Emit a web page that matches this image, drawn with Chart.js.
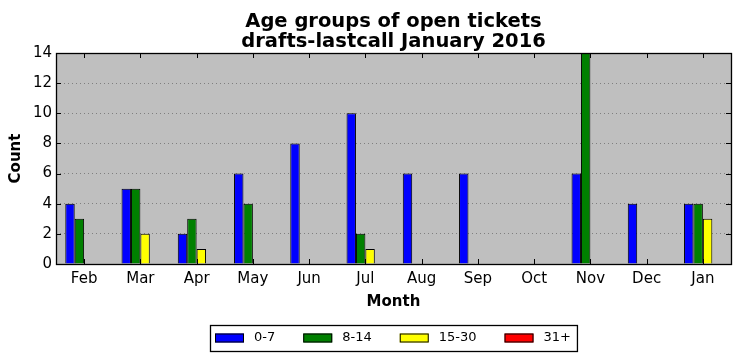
<!DOCTYPE html>
<html>
<head>
<meta charset="utf-8">
<script src="https://cdn.jsdelivr.net/npm/chart.js@4/dist/chart.umd.min.js"></script>
<style>
  html, body { margin: 0; padding: 0; background: #ffffff; }
  canvas { display: block; }
</style>
</head>
<body>
<canvas id="c" width="740" height="361"></canvas>
<script>
const titleLines = ["Age groups of open tickets", "drafts-lastcall January 2016"];
const months = ["Feb", "Mar", "Apr", "May", "Jun", "Jul", "Aug", "Sep", "Oct", "Nov", "Dec", "Jan"];
const seriesLabels = ["0-7", "8-14", "15-30", "31+"];
const age0to7   = [4, 5, 2, 6, 8, 10, 6, 6, 0, 6, 4, 4];
const age8to14  = [3, 5, 3, 4, 0, 2, 0, 0, 0, 14, 0, 4];
const age15to30 = [0, 2, 1, 0, 0, 1, 0, 0, 0, 0, 0, 3];
const age31plus = [0, 0, 0, 0, 0, 0, 0, 0, 0, 0, 0, 0];
const yTicks = [0, 2, 4, 6, 8, 10, 12, 14];

const FONT = "'DejaVu Sans', 'Liberation Sans', sans-serif";
Chart.defaults.font.family = FONT;
Chart.defaults.color = '#000000';

const bgPlugin = {
  id: 'bg',
  beforeDraw(chart) {
    const ctx = chart.ctx, ca = chart.chartArea;
    ctx.save();
    ctx.fillStyle = '#ffffff';
    ctx.fillRect(0, 0, chart.width, chart.height);
    ctx.fillStyle = '#bfbfbf';
    ctx.fillRect(ca.left, ca.top, ca.right - ca.left, ca.bottom - ca.top);
    ctx.restore();
  }
};

const titlePlugin = {
  id: 'axesTitle',
  afterDraw(chart) {
    const ctx = chart.ctx, ca = chart.chartArea;
    ctx.save();
    ctx.font = 'bold 19.5px ' + FONT;
    ctx.fillStyle = '#000000';
    ctx.textAlign = 'center';
    ctx.textBaseline = 'alphabetic';
    const cx = (ca.left + ca.right) / 2;
    titleLines.forEach((line, i) => ctx.fillText(line, cx, 26.7 + i * 20));
    ctx.restore();
  }
};

const framePlugin = {
  id: 'frame',
  afterDatasetsDraw(chart) {
    const ctx = chart.ctx, ca = chart.chartArea;
    const xs = chart.scales.x, ys = chart.scales.y;
    const tl = 5;
    ctx.save();
    ctx.strokeStyle = '#000000';
    ctx.lineWidth = 1;
    ctx.beginPath();
    xs.ticks.forEach((t, i) => {
      const px = Math.round(xs.getPixelForTick(i)) + 0.5;
      ctx.moveTo(px, ca.top); ctx.lineTo(px, ca.top + tl);
      ctx.moveTo(px, ca.bottom); ctx.lineTo(px, ca.bottom - tl);
    });
    yTicks.forEach(v => {
      const py = Math.round(ys.getPixelForValue(v)) + 0.5;
      ctx.moveTo(ca.left, py); ctx.lineTo(ca.left + tl, py);
      ctx.moveTo(ca.right, py); ctx.lineTo(ca.right - tl, py);
    });
    ctx.stroke();
    ctx.lineWidth = 1.3;
    ctx.strokeRect(ca.left + 0.5, ca.top + 0.5, ca.right - ca.left, ca.bottom - ca.top);
    ctx.restore();
  }
};

const legendPlugin = {
  id: 'boxLegend',
  afterDraw(chart) {
    const ctx = chart.ctx, ca = chart.chartArea;
    ctx.save();
    ctx.font = '13px ' + FONT;
    const sw = 29, sh = 9, gapText = 10, gapItem = 28, padL = 5, padR = 6;
    const items = chart.data.datasets.map(d => ({ label: d.label, color: d.backgroundColor, w: ctx.measureText(d.label).width }));
    let total = padL + padR;
    items.forEach((it, i) => { total += sw + gapText + it.w + (i < items.length - 1 ? gapItem : 0); });
    const left = Math.round((ca.left + ca.right) / 2 - total / 2);
    const top = 325, h = 26;
    ctx.fillStyle = '#ffffff';
    ctx.fillRect(left, top, total, h);
    ctx.strokeStyle = '#000000';
    ctx.lineWidth = 1.3;
    ctx.strokeRect(left + 0.5, top + 0.5, total, h);
    let x = left + padL;
    const midY = top + 13;
    ctx.textBaseline = 'middle';
    ctx.textAlign = 'left';
    items.forEach(it => {
      ctx.fillStyle = it.color;
      ctx.fillRect(x, midY - 4.5, sw, sh);
      ctx.lineWidth = 1;
      ctx.strokeStyle = '#000000';
      ctx.strokeRect(x + 0.5, midY - 4.5 + 0.5, sw - 1, sh - 1);
      ctx.fillStyle = '#000000';
      ctx.fillText(it.label, x + sw + gapText, midY);
      x += sw + gapText + it.w + gapItem;
    });
    ctx.restore();
  }
};

const colors = ['#0000ff', '#008000', '#ffff00', '#ff0000'];
const seriesData = [age0to7, age8to14, age15to30, age31plus];

new Chart(document.getElementById('c'), {
  type: 'bar',
  data: {
    labels: months,
    datasets: seriesLabels.map((lab, i) => ({
      label: lab,
      data: seriesData[i],
      backgroundColor: colors[i],
      borderColor: '#000000',
      borderWidth: 1,
      borderSkipped: 'bottom',
      inflateAmount: 0,
      categoryPercentage: 0.67,
      barPercentage: 1.0
    }))
  },
  options: {
    responsive: false,
    animation: false,
    devicePixelRatio: 1,
    layout: { padding: { left: 0, right: 9, top: 53, bottom: 45 } },
    plugins: {
      legend: { display: false },
      tooltip: { enabled: false },
      title: { display: false }
    },
    scales: {
      x: {
        grid: { display: false, drawTicks: false },
        border: { display: false },
        ticks: { font: { size: 15 }, color: '#000000', padding: 6, maxRotation: 0, autoSkip: false },
        title: { display: true, text: 'Month', color: '#000000', font: { size: 15, weight: 'bold' }, padding: { top: 0, bottom: 5 } },
        afterFit: s => { s.height = 52; }
      },
      y: {
        min: 0, max: 14,
        afterBuildTicks: s => { s.ticks = yTicks.map(v => ({ value: v })); },
        ticks: { font: { size: 15 }, color: '#000000', padding: 4 },
        grid: { color: '#7f7f7f', lineWidth: 1, drawTicks: false },
        border: { display: false, dash: [1, 3] },
        title: { display: true, text: 'Count', color: '#000000', font: { size: 15, weight: 'bold' }, padding: { top: 7.5, bottom: 0 } },
        afterFit: s => { s.width = 56; }
      }
    }
  },
  plugins: [bgPlugin, framePlugin, legendPlugin, titlePlugin]
});
</script>
</body>
</html>
